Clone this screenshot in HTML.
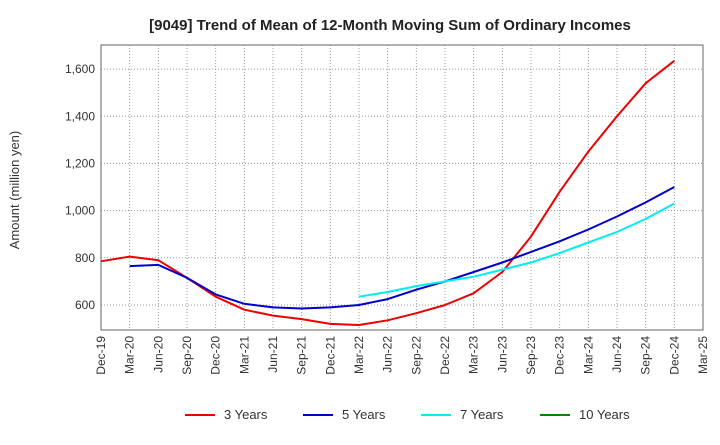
<!DOCTYPE html>
<html><head><meta charset="utf-8"><style>
body{margin:0;background:#fff;font-family:"Liberation Sans",sans-serif;}
</style></head><body>
<svg id="chart" width="720" height="440" xmlns="http://www.w3.org/2000/svg">
<text x="390" y="30" text-anchor="middle" font-size="15" font-weight="bold" fill="#222">[9049]  Trend of Mean of 12-Month Moving Sum of Ordinary Incomes</text>
<text transform="translate(19,190) rotate(-90)" text-anchor="middle" font-size="13" fill="#333">Amount (million yen)</text>
<g id="grid"></g><g id="series"></g><g id="legend"></g>
</svg>
<script>
const xLabels=["Dec-19","Mar-20","Jun-20","Sep-20","Dec-20","Mar-21","Jun-21","Sep-21","Dec-21","Mar-22","Jun-22","Sep-22","Dec-22","Mar-23","Jun-23","Sep-23","Dec-23","Mar-24","Jun-24","Sep-24","Dec-24","Mar-25"];
const yTicks=[600,800,1000,1200,1400,1600];
const seriesNames=["3 Years","5 Years","7 Years","10 Years"];
const seriesColors=["#e00","#00c","#0ee","#080"];
const y3=[785,805,790,715,635,580,555,540,520,515,535,565,600,650,740,890,1080,1250,1400,1540,1635];
const y5=[null,765,770,715,645,605,590,585,590,600,625,665,700,740,780,825,870,920,975,1035,1100];
const y7=[null,null,null,null,null,null,null,null,null,635,655,680,700,720,750,780,820,865,910,965,1030];
const y10=[];
const L=101,R=703,T=45,B=330,yMin=494,yMax=1702;
const xs=i=>L+i*(R-L)/(xLabels.length-1);
const ys=v=>B-(v-yMin)/(yMax-yMin)*(B-T);
const NS="http://www.w3.org/2000/svg";
function mk(tag,attrs,parent){const e=document.createElementNS(NS,tag);for(const k in attrs)e.setAttribute(k,attrs[k]);parent.appendChild(e);return e;}
const g=document.getElementById('grid');
xLabels.forEach((lab,i)=>{
  const x=xs(i);
  const l=mk('line',{x1:x,x2:x,y1:T,y2:B,stroke:'#999','stroke-dasharray':'1,2'},g);
  
  
  const t=mk('text',{transform:`translate(${x+4},${B+6}) rotate(-90)`,'text-anchor':'end','font-size':12,fill:'#333'},g);
  t.textContent=lab;
  
  
});
yTicks.forEach(v=>{
  const y=ys(v);
  const l=mk('line',{x1:L,x2:R,y1:y,y2:y,stroke:'#999','stroke-dasharray':'1,2'},g);
  
  
  const t=mk('text',{x:L-6,y:y+4,'text-anchor':'end','font-size':12,fill:'#333'},g);
  t.textContent=v.toLocaleString('en-US');
  
  
});
const fr=mk('rect',{x:L,y:T,width:R-L,height:B-T,fill:'none',stroke:'#666'},g);


const sg=document.getElementById('series');
[y3,y5,y7,y10].forEach((arr,si)=>{
  const pts=[];arr.forEach((v,i)=>{if(v!=null)pts.push(xs(i).toFixed(1)+','+ys(v).toFixed(1));});
  if(pts.length<2)return;
  const p=mk('polyline',{points:pts.join(' '),fill:'none',stroke:seriesColors[si],'stroke-width':2,'stroke-linejoin':'round'},sg);
  
  
});
const lg=document.getElementById('legend');
const lx=[185,303,421,540];
seriesNames.forEach((n,i)=>{
  const l=mk('line',{x1:lx[i],x2:lx[i]+30,y1:415,y2:415,stroke:seriesColors[i],'stroke-width':2},lg);
  
  
  const t=mk('text',{x:lx[i]+39,y:419,'font-size':13,fill:'#333'},lg);
  t.textContent=n;
  
  
});
</script>
</body></html>
